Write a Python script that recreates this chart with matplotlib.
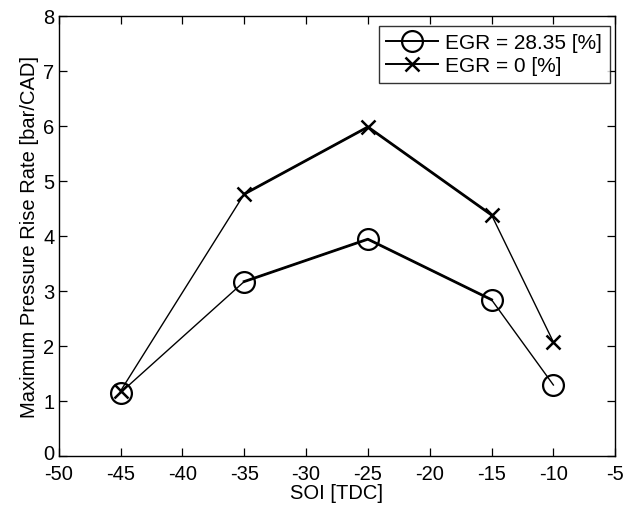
import matplotlib
matplotlib.use("Agg")
import matplotlib.pyplot as plt
import matplotlib.transforms as mtransforms
from matplotlib.lines import Line2D

plt.rcParams['font.family'] = ['Liberation Sans', 'DejaVu Sans']
plt.rcParams['axes.unicode_minus'] = False

soi = [-45, -35, -25, -15, -10]
egr_28 = [1.15, 3.17, 3.94, 2.84, 1.29]
egr_0 = [1.18, 4.76, 5.98, 4.38, 2.07]
xticks = [-50, -45, -40, -35, -30, -25, -20, -15, -10, -5]
yticks = [0, 1, 2, 3, 4, 5, 6, 7, 8]
labels = ['EGR = 28.35 [%]', 'EGR = 0 [%]']

fig = plt.figure(figsize=(6.31, 5.10), dpi=100)
ax = fig.add_axes([0.093, 0.104, 0.882, 0.863])

# thin outer segments, thicker inner segments (as in the reference)
for ys in (egr_28, egr_0):
    ax.plot(soi, ys, color='black', lw=1.0, zorder=2)
    ax.plot(soi[1:4], ys[1:4], color='black', lw=2.0, zorder=2)

ax.plot(soi, egr_28, ls='none', marker='o', markersize=15, color='black',
        markerfacecolor='none', markeredgewidth=1.6, zorder=3)
ax.plot(soi, egr_0, ls='none', marker='x', markersize=10, color='black',
        markeredgewidth=1.8, zorder=3)

ax.set_xlim(-50, -5)
ax.set_ylim(0, 8)
ax.set_xticks(xticks)
ax.set_yticks(yticks)
ax.tick_params(direction='in', top=True, right=True, labelsize=14.5, length=6,
               width=0.9)
ax.tick_params(axis='x', pad=6)
ax.tick_params(axis='y', pad=3)
for s in ax.spines.values():
    s.set_linewidth(1.0)
ax.set_xlabel('SOI [TDC]', fontsize=14.5, labelpad=0)
ax.set_ylabel('Maximum Pressure Rise Rate [bar/CAD]', fontsize=14.5, labelpad=3)

# nudge the "0" y label up slightly so it does not collide with "-50"
fig.canvas.draw()
ylab0 = ax.get_yticklabels()[0]
ylab0.set_transform(ylab0.get_transform() +
                    mtransforms.ScaledTranslation(0, 4 / 100, fig.dpi_scale_trans))

handles = [
    Line2D([], [], color='black', lw=1.4, marker='o', markersize=15,
           markerfacecolor='none', markeredgewidth=1.6),
    Line2D([], [], color='black', lw=1.4, marker='x', markersize=10,
           markeredgewidth=1.8),
]
leg = ax.legend(handles, labels, loc='upper right', fontsize=15, frameon=True,
                fancybox=False, edgecolor='black', handlelength=2.5,
                handletextpad=0.35, borderpad=0.35, labelspacing=0.2,
                borderaxespad=0.0, bbox_to_anchor=(0.99, 0.977))
leg.get_frame().set_linewidth(1.0)

fig.savefig('out.png', dpi=100)
